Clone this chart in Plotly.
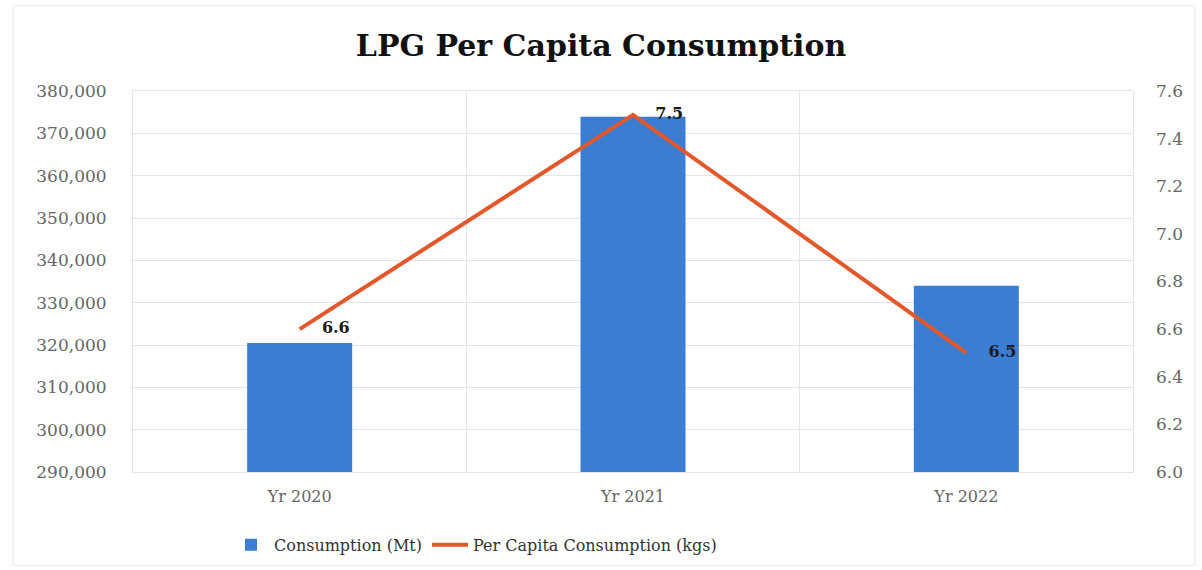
import plotly.graph_objects as go

years = ["Yr 2020", "Yr 2021", "Yr 2022"]
consumption_mt = [320500, 373900, 334000]
per_capita_kgs = [6.6, 7.5, 6.5]

serif = "DejaVu Serif, Liberation Serif, serif"
bar_color = "#3B7DD3"
line_color = "#E2582A"
grid_color = "#E4E4EE"
tick_color = "#666666"

fig = go.Figure()

fig.add_trace(go.Bar(
    x=years, y=consumption_mt, name="Consumption (Mt)",
    marker=dict(color=bar_color, line=dict(width=0)),
    width=0.315, yaxis="y",
))

fig.add_trace(go.Scatter(
    x=years, y=per_capita_kgs, name="Per Capita Consumption (kgs)",
    mode="lines", yaxis="y2",
    line=dict(color=line_color, width=4),
))

# value labels; the invisible markers push the text off the line vertices
fig.add_trace(go.Scatter(
    x=years, y=per_capita_kgs, mode="markers+text", yaxis="y2",
    marker=dict(size=34, opacity=0), showlegend=False, hoverinfo="skip",
    text=[f"{v:.1f}" for v in per_capita_kgs],
    textposition="middle right",
    textfont=dict(family=serif, size=16, color="#1a1a1a", weight="bold"),
    cliponaxis=False,
))

fig.update_layout(
    width=1202, height=570,
    paper_bgcolor="white", plot_bgcolor="white",
    margin=dict(l=133, r=69, t=91, b=98, autoexpand=False),
    title=dict(
        text="<b>LPG Per Capita Consumption</b>",
        x=0.5, xanchor="center", y=0.92, yanchor="middle",
        font=dict(family=serif, size=30, color="#111111"),
    ),
    xaxis=dict(
        type="category", tickson="boundaries",
        showgrid=True, gridcolor=grid_color, gridwidth=1,
        ticks="", showline=True, linecolor=grid_color, mirror=True,
        tickfont=dict(family=serif, size=16, color=tick_color),
        ticklabelstandoff=10,
    ),
    yaxis=dict(
        range=[290000, 380000], dtick=10000, tickformat=",",
        showgrid=True, gridcolor=grid_color, gridwidth=1,
        zeroline=False, showline=True, linecolor=grid_color, mirror=True,
        tickfont=dict(family=serif, size=17, color=tick_color),
        ticklabelstandoff=22,
    ),
    yaxis2=dict(
        range=[6.0, 7.6], dtick=0.2, tickformat=".1f",
        overlaying="y", side="right", showgrid=False, zeroline=False,
        tickfont=dict(family=serif, size=17, color=tick_color),
        ticklabelstandoff=22,
    ),
    legend=dict(
        orientation="h", x=0.095, xanchor="left",
        yref="container", y=0.074, yanchor="top",
        font=dict(family=serif, size=16, color="#333333"),
        itemwidth=36, traceorder="normal",
    ),
    shapes=[dict(
        type="rect", xref="paper", yref="paper",
        x0=-0.12, x1=1.062, y0=-0.245, y1=1.225,
        line=dict(color="#E8E8EE", width=1), layer="below",
    )],
)

fig.write_html("out.html")
